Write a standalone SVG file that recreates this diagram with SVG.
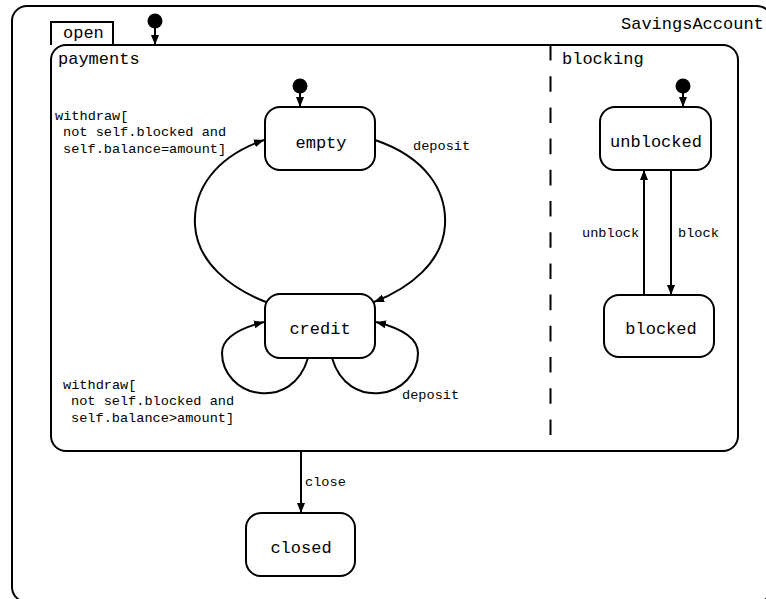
<svg xmlns="http://www.w3.org/2000/svg" width="766" height="599" viewBox="0 0 766 599">
  <defs>
    <marker id="arrow" markerUnits="userSpaceOnUse" markerWidth="10" markerHeight="8" refX="10" refY="4" orient="auto">
      <path d="M0,0 L10,4 L0,8 z" fill="#000"/>
    </marker>
    <style>
      .frame { fill: none; stroke: #000; stroke-width: 2; }
      .state { fill: #fff; stroke: #000; stroke-width: 2; }
      .edge { fill: none; stroke: #000; stroke-width: 2; marker-end: url(#arrow); }
      .init { fill: #000; }
      .name { font-family: "Liberation Mono", "Courier New", monospace; font-size: 17px; fill: #000; }
      .lbl { font-family: "Liberation Mono", "Courier New", monospace; font-size: 13.6px; fill: #000; }
      .mid { text-anchor: middle; }
      .region { fill: none; stroke: #000; stroke-width: 2; stroke-dasharray: 15.6 15.6; }
    </style>
  </defs>

  <rect width="766" height="599" fill="#fff"/>

  <!-- outer state machine -->
  <g id="SavingsAccount">
    <rect class="frame" x="12" y="6" width="760" height="596" rx="15"/>
    <text class="name" x="621" y="29">SavingsAccount</text>
  </g>

  <!-- composite state "open" with two orthogonal regions -->
  <g id="open">
    <path class="frame" d="M51,45 V22 H113 V45"/>
    <text class="name" x="63" y="38">open</text>
    <rect class="frame" x="51" y="45" width="687" height="406" rx="15"/>
    <line class="region" x1="550.5" y1="45" x2="550.5" y2="436"/>
    <text class="name" x="58" y="64">payments</text>
    <text class="name" x="562" y="64">blocking</text>
  </g>

  <g id="init-open">
    <circle class="init" cx="155" cy="21" r="7.5"/>
  </g>
  <g id="init-payments">
    <circle class="init" cx="300" cy="86" r="7.5"/>
  </g>
  <g id="init-blocking">
    <circle class="init" cx="683" cy="86" r="7.5"/>
  </g>

  <g id="empty">
    <rect class="state" x="265" y="107" width="110" height="63" rx="15"/>
    <text class="name mid" x="321" y="148">empty</text>
  </g>

  <g id="credit">
    <rect class="state" x="265" y="294" width="110" height="64" rx="15"/>
    <text class="name mid" x="320" y="334">credit</text>
  </g>

  <g id="unblocked">
    <rect class="state" x="600" y="107" width="111" height="63" rx="15"/>
    <text class="name mid" x="656" y="147">unblocked</text>
  </g>

  <g id="blocked">
    <rect class="state" x="604" y="295" width="110" height="62" rx="15"/>
    <text class="name mid" x="661" y="334">blocked</text>
  </g>

  <g id="closed">
    <rect class="state" x="246" y="513" width="109" height="63" rx="15"/>
    <text class="name mid" x="301" y="553">closed</text>
  </g>

  <!-- transitions -->
  <g id="connectors">
    <line class="edge" x1="155" y1="25" x2="155" y2="45"/>
    <line class="edge" x1="300" y1="90" x2="300" y2="107"/>
    <line class="edge" x1="683" y1="90" x2="683" y2="107"/>

    <path class="edge" d="M375,140 C425,157 447,190 445,225 C443,262 410,288 374,302"/>
    <path class="edge" d="M266,302 C230,288 197,262 195,225 C193,190 215,157 264,140"/>

    <path class="edge" d="M308,358 C300,385 280,395 260,393 C238,391 222,373 222,353 C222,338 240,328 264,322"/>
    <path class="edge" d="M332,358 C340,385 360,395 380,393 C402,391 418,373 418,353 C418,338 400,328 376,322"/>

    <line class="edge" x1="644" y1="295" x2="644" y2="170"/>
    <line class="edge" x1="671" y1="170" x2="671" y2="295"/>

    <line class="edge" x1="301" y1="451" x2="301" y2="513"/>

    <text class="lbl" x="413" y="150">deposit</text>
    <text class="lbl" x="55" y="120">withdraw[</text>
    <text class="lbl" x="63" y="136.4">not self.blocked and</text>
    <text class="lbl" x="63" y="152.8">self.balance=amount]</text>

    <text class="lbl" x="63" y="389">withdraw[</text>
    <text class="lbl" x="71" y="405.4">not self.blocked and</text>
    <text class="lbl" x="71" y="421.8">self.balance&gt;amount]</text>
    <text class="lbl" x="402" y="399">deposit</text>

    <text class="lbl" x="582" y="237">unblock</text>
    <text class="lbl" x="678" y="237">block</text>

    <text class="lbl" x="305" y="486">close</text>
  </g>
</svg>
